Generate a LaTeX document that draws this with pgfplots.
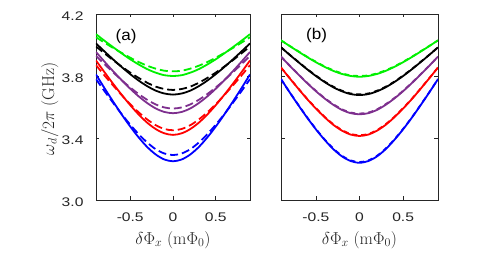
\documentclass[border=0pt]{standalone}
\usepackage[no-math]{fontspec}
\setmainfont{Liberation Sans}
\usepackage{pgfplots}
\usepackage{pgfplotstable}
\pgfplotsset{compat=1.18}
\definecolor{mgreen}{RGB}{0,240,0}
\definecolor{mpurple}{RGB}{126,47,142}
\definecolor{mred}{RGB}{255,0,0}
\definecolor{mblue}{RGB}{0,0,255}
\definecolor{axgray}{RGB}{38,38,38}

% panel (a): solid (s) and dashed (d) curves
\pgfplotstableread{
x     gs    gd    ks    kd    ps    pd    rs    rd    bs    bd
-0.9  4.070 4.050 4.010 3.990 3.955 3.930 3.900 3.870 3.810 3.780
-0.8  4.027 4.015 3.958 3.946 3.892 3.876 3.824 3.803 3.721 3.702
-0.7  3.986 3.981 3.907 3.902 3.831 3.824 3.750 3.739 3.635 3.627
-0.6  3.946 3.949 3.858 3.861 3.773 3.773 3.679 3.677 3.552 3.554
-0.5  3.908 3.918 3.812 3.822 3.718 3.726 3.612 3.618 3.474 3.486
-0.4  3.874 3.890 3.770 3.787 3.668 3.683 3.551 3.565 3.403 3.424
-0.3  3.844 3.866 3.734 3.756 3.625 3.646 3.498 3.519 3.341 3.370
-0.2  3.821 3.847 3.705 3.731 3.590 3.616 3.457 3.482 3.293 3.327
-0.1  3.805 3.834 3.687 3.716 3.568 3.597 3.430 3.458 3.261 3.300
0.0   3.800 3.830 3.680 3.710 3.560 3.590 3.420 3.450 3.250 3.290
0.1   3.805 3.834 3.687 3.716 3.568 3.597 3.430 3.458 3.261 3.300
0.2   3.821 3.847 3.705 3.731 3.590 3.616 3.457 3.482 3.293 3.327
0.3   3.844 3.866 3.734 3.756 3.625 3.646 3.498 3.519 3.341 3.370
0.4   3.874 3.890 3.770 3.787 3.668 3.683 3.551 3.565 3.403 3.424
0.5   3.908 3.918 3.812 3.822 3.718 3.726 3.612 3.618 3.474 3.486
0.6   3.946 3.949 3.858 3.861 3.773 3.773 3.679 3.677 3.552 3.554
0.7   3.986 3.981 3.907 3.902 3.831 3.824 3.750 3.739 3.635 3.627
0.8   4.027 4.015 3.958 3.946 3.892 3.876 3.824 3.803 3.721 3.702
0.9   4.070 4.050 4.010 3.990 3.955 3.930 3.900 3.870 3.810 3.780
}\tabA

% panel (b)
\pgfplotstableread{
x     gs    gd    ks    kd    ps    pd    rs    rd    bs    bd
-0.9  4.030 4.030 3.985 3.985 3.925 3.925 3.855 3.855 3.780 3.780
-0.8  3.993 3.994 3.936 3.937 3.866 3.867 3.785 3.786 3.694 3.695
-0.7  3.957 3.959 3.889 3.891 3.809 3.811 3.717 3.719 3.611 3.613
-0.6  3.922 3.924 3.843 3.845 3.754 3.756 3.651 3.653 3.531 3.533
-0.5  3.889 3.892 3.800 3.803 3.702 3.705 3.590 3.593 3.456 3.459
-0.4  3.859 3.862 3.761 3.764 3.655 3.658 3.534 3.537 3.388 3.391
-0.3  3.833 3.837 3.727 3.731 3.614 3.618 3.485 3.489 3.328 3.332
-0.2  3.813 3.817 3.701 3.705 3.581 3.585 3.447 3.451 3.281 3.285
-0.1  3.800 3.804 3.683 3.687 3.560 3.564 3.422 3.426 3.251 3.255
0.0   3.795 3.800 3.677 3.682 3.553 3.558 3.413 3.418 3.240 3.245
0.1   3.800 3.804 3.683 3.687 3.560 3.564 3.422 3.426 3.251 3.255
0.2   3.813 3.817 3.701 3.705 3.581 3.585 3.447 3.451 3.281 3.285
0.3   3.833 3.837 3.727 3.731 3.614 3.618 3.485 3.489 3.328 3.332
0.4   3.859 3.862 3.761 3.764 3.655 3.658 3.534 3.537 3.388 3.391
0.5   3.889 3.892 3.800 3.803 3.702 3.705 3.590 3.593 3.456 3.459
0.6   3.922 3.924 3.843 3.845 3.754 3.756 3.651 3.653 3.531 3.533
0.7   3.957 3.959 3.889 3.891 3.809 3.811 3.717 3.719 3.611 3.613
0.8   3.993 3.994 3.936 3.937 3.866 3.867 3.785 3.786 3.694 3.695
0.9   4.030 4.030 3.985 3.985 3.925 3.925 3.855 3.855 3.780 3.780
}\tabB

\pgfplotsset{
  panel/.style={
    scale only axis, height=186pt,
    xmin=-0.9, xmax=0.9, ymin=3, ymax=4.2,
    xtick={-0.5,0,0.5}, ytick={3,3.4,3.8,4.2},
    tick align=inside, major tick length=3.5pt,
    axis line style={axgray, line width=0.8pt},
    tick style={axgray, line width=0.7pt},
    /pgf/number format/assume math mode=true,
    ticklabel style={font=\fontsize{12.5}{14}\selectfont, text=axgray, xscale=1.25},
    xticklabel style={yshift=-9.5pt},
    yticklabel style={xshift=-6.5pt, yshift=-2pt},
    yticklabel={\pgfmathprintnumber[fixed,fixed zerofill,precision=1]{\tick}},
    xlabel={$\delta\Phi_x\ (\mathrm{m}\Phi_0)$},
    xlabel style={at={(axis description cs:0.5,-0.215)}, anchor=center, font=\fontsize{17.5}{20}\selectfont, text=axgray},
    sol/.style={line width=1.8pt, smooth},
    das/.style={line width=1.8pt, smooth, dash pattern=on 8pt off 4pt},
  }
}

\begin{document}
\begin{tikzpicture}
\path[use as bounding box] (0,0) rectangle (498pt,254pt);

\begin{axis}[panel, width=154pt, at={(96pt,54pt)}, anchor=south west,
  ylabel={$\omega_d/2\pi\ (\mathrm{GHz})$},
  ylabel style={at={(axis description cs:-0.30,0.49)}, anchor=center, font=\fontsize{17.5}{20}\selectfont, text=axgray}]
\addplot[sol, mgreen] table[x=x,y=gs]{\tabA};
\addplot[das, mgreen] table[x=x,y=gd]{\tabA};
\addplot[sol, black] table[x=x,y=ks]{\tabA};
\addplot[das, black] table[x=x,y=kd]{\tabA};
\addplot[sol, mpurple] table[x=x,y=ps]{\tabA};
\addplot[das, mpurple] table[x=x,y=pd]{\tabA};
\addplot[sol, mred] table[x=x,y=rs]{\tabA};
\addplot[das, mred] table[x=x,y=rd]{\tabA};
\addplot[sol, mblue] table[x=x,y=bs]{\tabA};
\addplot[das, mblue] table[x=x,y=bd]{\tabA};
\node[font=\fontsize{15.5}{17}\selectfont, text=black, xscale=1.1] at (axis description cs:0.195,0.88) {(a)};
\end{axis}

\begin{axis}[panel, width=157pt, at={(281pt,54pt)}, anchor=south west,
  yticklabel=\empty]
\addplot[sol, mgreen] table[x=x,y=gs]{\tabB};
\addplot[das, mgreen, dash pattern=on 5pt off 4pt] table[x=x,y=gd]{\tabB};
\addplot[sol, black] table[x=x,y=ks]{\tabB};
\addplot[das, black, dash pattern=on 5pt off 4pt] table[x=x,y=kd]{\tabB};
\addplot[sol, mpurple] table[x=x,y=ps]{\tabB};
\addplot[das, mpurple, dash pattern=on 5pt off 4pt] table[x=x,y=pd]{\tabB};
\addplot[sol, mred] table[x=x,y=rs]{\tabB};
\addplot[das, mred, dash pattern=on 5pt off 4pt] table[x=x,y=rd]{\tabB};
\addplot[sol, mblue] table[x=x,y=bs]{\tabB};
\addplot[das, mblue, dash pattern=on 5pt off 4pt] table[x=x,y=bd]{\tabB};
\node[font=\fontsize{15.5}{17}\selectfont, text=black, xscale=1.1] at (axis description cs:0.227,0.887) {(b)};
\end{axis}
\end{tikzpicture}
\end{document}
